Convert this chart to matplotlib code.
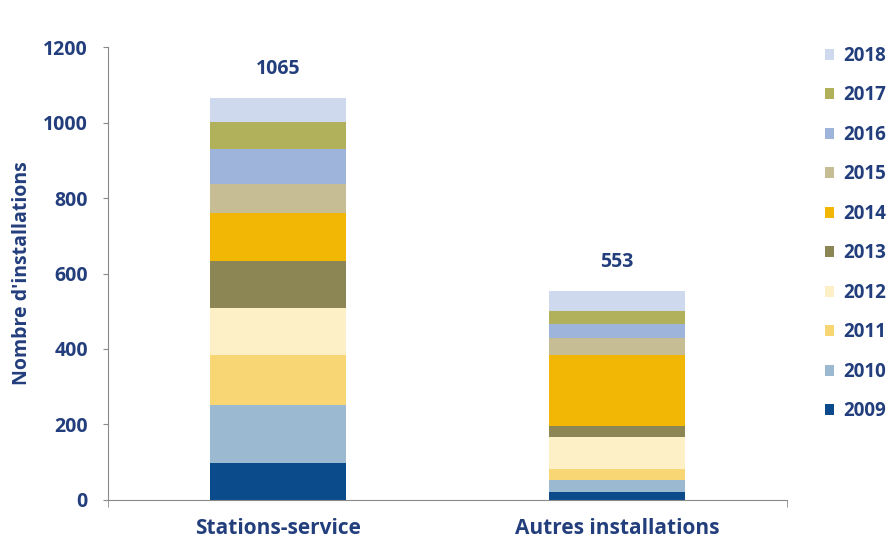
import matplotlib.pyplot as plt
import numpy as np
from matplotlib.patches import Patch

plt.rcParams["font.family"] = ["Open Sans", "DejaVu Sans"]

# Data
categories = ["Stations-service", "Autres installations"]
years = ["2009", "2010", "2011", "2012", "2013", "2014", "2015", "2016", "2017", "2018"]
stations = [97, 155, 132, 124, 125, 126, 78, 92, 73, 63]
autres = [22, 31, 29, 86, 28, 188, 44, 38, 35, 52]
totals = [1065, 553]
colors = ["#0b4a8b", "#9cb9d2", "#f8d673", "#fdf0c6", "#8c8654",
          "#f2b705", "#c7bd95", "#9fb4da", "#b1b05b", "#cfd9ee"]

TEXT = "#233e7c"
AXIS = "#8a8a8a"

fig = plt.figure(figsize=(8.96, 5.41), dpi=100)
ax = fig.add_axes([0.1205, 0.0758, 0.7578, 0.8373])

x = np.arange(len(categories))
bottom = np.zeros(len(categories))
for i, yr in enumerate(years):
    vals = np.array([stations[i], autres[i]])
    ax.bar(x, vals, width=0.4, bottom=bottom, color=colors[i], label=yr)
    bottom += vals

for xi, tot in zip(x, totals):
    ax.annotate(str(tot), (xi, bottom[xi]), xytext=(0, 21), textcoords="offset points",
                ha="center", va="center", fontsize=14, fontweight="bold", color=TEXT)

ax.set_xlim(-0.5, 1.5)
ax.set_ylim(0, 1200)
ax.set_yticks(range(0, 1201, 200))
ax.set_xticks(x)
ax.set_xticklabels(categories, fontsize=15, fontweight="bold", color=TEXT)
ax.tick_params(axis="x", length=0, pad=13)
ax.set_xticks([-0.5, 1.5], minor=True)
ax.tick_params(axis="x", which="minor", length=5, color=AXIS, direction="out")
ax.tick_params(axis="y", length=3.6, color=AXIS, labelsize=14, labelcolor=TEXT, pad=10.8)
for lbl in ax.get_yticklabels():
    lbl.set_fontweight("bold")
ax.set_ylabel("Nombre d'installations", fontsize=14, fontweight="bold", color=TEXT, labelpad=8)

for side in ["top", "right"]:
    ax.spines[side].set_visible(False)
ax.spines["left"].set_color(AXIS)
ax.spines["bottom"].set_color(AXIS)

handles = [Patch(facecolor=colors[i], label=years[i]) for i in range(len(years))][::-1]
leg = fig.legend(handles=handles, loc="upper left", bbox_to_anchor=(0.912, 0.929),
                 frameon=False, fontsize=13.5, handlelength=0.5, handleheight=0.5,
                 handletextpad=0.5, labelspacing=1.04, borderaxespad=0)
for t in leg.get_texts():
    t.set_color(TEXT)
    t.set_fontweight("bold")

fig.savefig("out.png", dpi=100)
